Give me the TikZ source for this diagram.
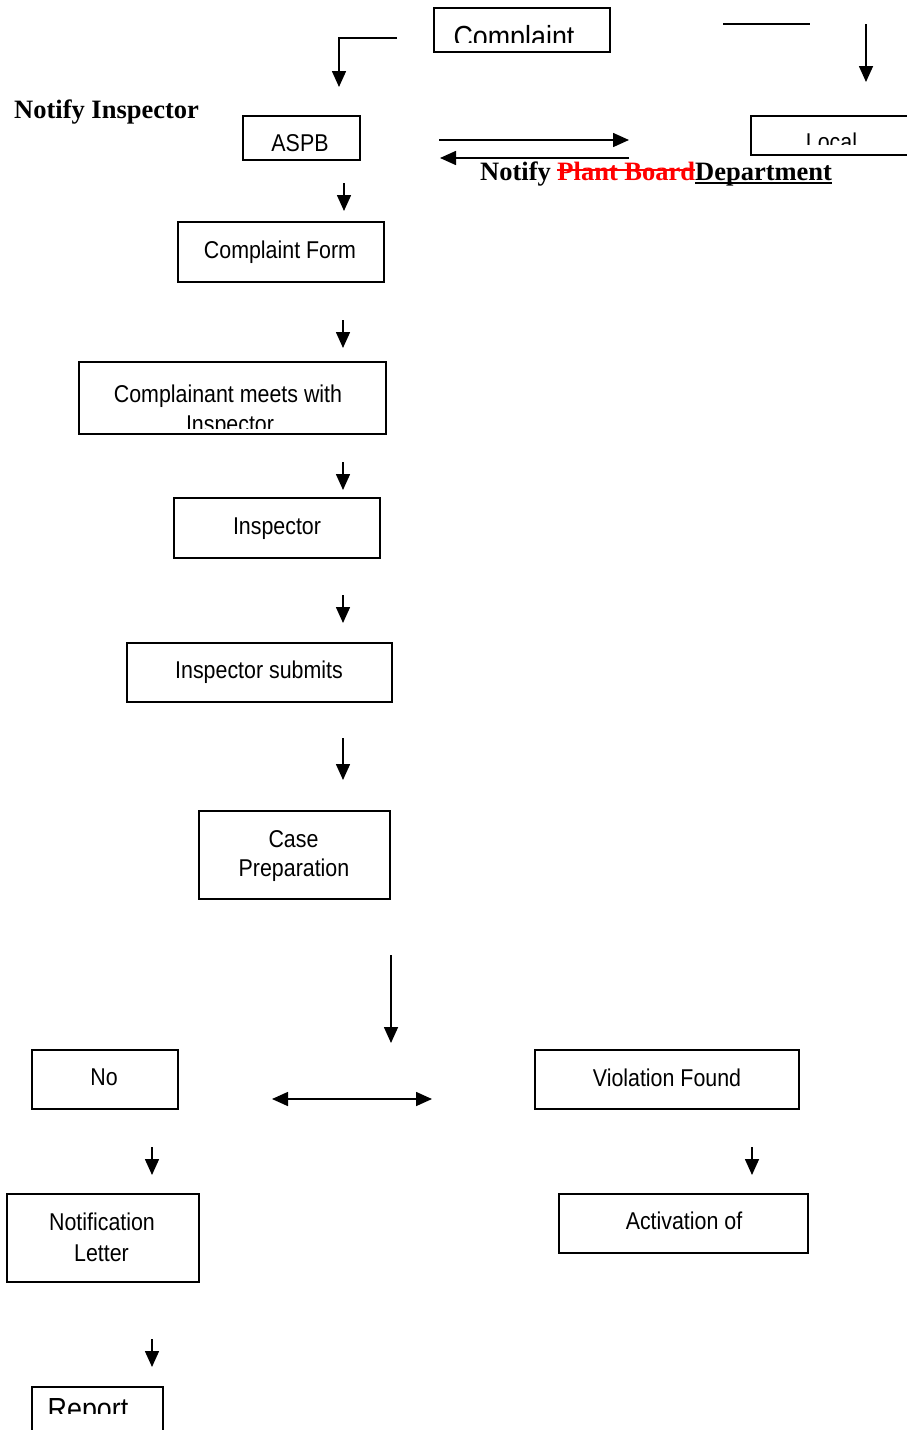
\documentclass[tikz,border=0pt]{standalone}
\usepackage{fontspec}
\setmainfont{Liberation Serif}
\setsansfont{Liberation Sans}[FakeStretch=0.88]
\usetikzlibrary{arrows.meta}
\newcommand{\mystrike}[1]{\setbox0\hbox{#1}\rlap{\copy0}\rule[9pt]{\wd0}{1.8pt}}
\newcommand{\myunder}[1]{\setbox0\hbox{#1}\rlap{\copy0}\rule[-3.8pt]{\wd0}{1.8pt}}
\begin{document}
\begin{tikzpicture}[x=1pt,y=-1pt,
  box/.style={draw, line width=1.8pt, anchor=north west, inner sep=0pt, outer sep=0pt},
  txt/.style={font=\fontsize{24.3}{30}\selectfont\sffamily, anchor=base, inner sep=0pt},
  bigtxt/.style={font=\fontsize{30.5}{34}\selectfont\sffamily, anchor=base, inner sep=0pt},
  lab/.style={font=\fontsize{26.5}{30}\selectfont\bfseries, anchor=base west, inner sep=0pt},
  arr/.style={line width=1.6pt, -{Triangle[length=16pt,width=14pt]}},
  dbl/.style={line width=1.6pt, {Triangle[length=16pt,width=14pt]}-{Triangle[length=16pt,width=14pt]}},
  plain/.style={line width=1.6pt}
]
\clip (0,0) rectangle (907,1430);
\fill[white] (0,0) rectangle (907,1430);

% boxes
\node[box, minimum width=176pt, minimum height=44pt] (complaint) at (434,8) {};
\node[box, minimum width=117pt, minimum height=44pt] (aspb) at (243,116) {};
\node[box, minimum width=220pt, minimum height=39pt] (local) at (751,116) {};
\node[box, minimum width=206pt, minimum height=60pt] (form) at (178,222) {};
\node[box, minimum width=307pt, minimum height=72pt] (meets) at (79,362) {};
\node[box, minimum width=206pt, minimum height=60pt] (insp) at (174,498) {};
\node[box, minimum width=265pt, minimum height=59pt] (submits) at (127,643) {};
\node[box, minimum width=191pt, minimum height=88pt] (case) at (199,811) {};
\node[box, minimum width=146pt, minimum height=59pt] (noviol) at (32,1050) {};
\node[box, minimum width=264pt, minimum height=59pt] (viol) at (535,1050) {};
\node[box, minimum width=192pt, minimum height=88pt] (notif) at (7,1194) {};
\node[box, minimum width=249pt, minimum height=59pt] (activ) at (559,1194) {};
\node[box, minimum width=131pt, minimum height=80pt] (report) at (32,1387) {};

% texts
\begin{scope}
\clip (436,10) rectangle (608,42);
\node[bigtxt] (tcomplaint) at (514,47) {Complaint};
\end{scope}
\node[txt] (taspb) at (300,151) {ASPB};
\begin{scope}
\clip (753,118) rectangle (907,144);
\node[txt] (tlocal) at (831.5,150.5) {Local};
\end{scope}
\node[txt] (tform) at (280,258) {Complaint Form};
\node[txt] (tmeets) at (228,402) {Complainant meets with};
\begin{scope}
\clip (81,364) rectangle (384,428);
\node[txt] (tmeets2) at (230,432) {Inspector};
\end{scope}
\node[txt] (tinsp) at (277,534) {Inspector};
\node[txt] (tsubmits) at (259,678) {Inspector submits};
\node[txt] (tcase) at (293.5,847) {Case};
\node[txt] (tcase2) at (294,876) {Preparation};
\node[txt] (tno) at (104,1085) {No};
\node[txt] (tviol) at (667,1086) {Violation Found};
\node[txt] (tnotif) at (102,1230) {Notification};
\node[txt] (tnotif2) at (101.5,1261) {Letter};
\node[txt] (tactiv) at (684,1229) {Activation of};
\begin{scope}
\clip (34,1389) rectangle (161,1413);
\node[bigtxt] (treport) at (88,1419) {Report};
\end{scope}

% bold labels
\node[lab] (ninsp) at (14,118) {Notify Inspector};
\node[lab] (ndept) at (480,180) {Notify \textcolor{red}{\mystrike{Plant Board}}\myunder{Department}};

% connectors
\coordinate (e1) at (397,38); \coordinate (e2) at (339,38); \coordinate (e3) at (339,87);
\draw[arr] (e1) -- (e2) -- (e3);
\coordinate (t1) at (723,24); \coordinate (t2) at (810,24);
\draw[plain] (t1) -- (t2);
\coordinate (r1) at (866,24); \coordinate (r2) at (866,82);
\draw[arr] (r1) -- (r2);
\coordinate (h1) at (439,140); \coordinate (h2) at (629,140);
\draw[arr] (h1) -- (h2);
\coordinate (h3) at (629,158); \coordinate (h4) at (440,158);
\draw[arr] (h3) -- (h4);
\coordinate (a1) at (344,183); \coordinate (a2) at (344,211);
\draw[arr] (a1) -- (a2);
\coordinate (b1) at (343,320); \coordinate (b2) at (343,348);
\draw[arr] (b1) -- (b2);
\coordinate (c1) at (343,462); \coordinate (c2) at (343,490);
\draw[arr] (c1) -- (c2);
\coordinate (d1) at (343,595); \coordinate (d2) at (343,623);
\draw[arr] (d1) -- (d2);
\coordinate (f1) at (343,738); \coordinate (f2) at (343,780);
\draw[arr] (f1) -- (f2);
\coordinate (g1) at (391,955); \coordinate (g2) at (391,1043);
\draw[arr] (g1) -- (g2);
\coordinate (k1) at (272,1099); \coordinate (k2) at (432,1099);
\draw[dbl] (k1) -- (k2);
\coordinate (m1) at (152,1147); \coordinate (m2) at (152,1175);
\draw[arr] (m1) -- (m2);
\coordinate (n1) at (752,1147); \coordinate (n2) at (752,1175);
\draw[arr] (n1) -- (n2);
\coordinate (p1) at (152,1339); \coordinate (p2) at (152,1367);
\draw[arr] (p1) -- (p2);
\end{tikzpicture}
\end{document}
